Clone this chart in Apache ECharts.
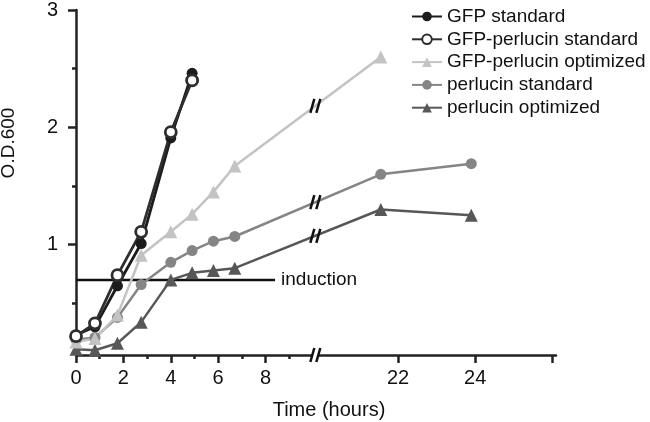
<!DOCTYPE html>
<html><head><meta charset="utf-8">
<script src="https://cdn.jsdelivr.net/npm/echarts@6/dist/echarts.min.js"></script>
<style>html,body{margin:0;padding:0;background:#fff}#c{width:650px;height:422px}</style>
</head><body><div id="c"></div>
<script>
// ---- data (hours, O.D.600) ----
const hours = [0, 0.8, 1.75, 2.75, 4, 4.9, 5.8, 6.7, 21.55, 23.9];
const gfpStandard          = [0.23, 0.30, 0.65, 1.01, 1.91, 2.46];
const gfpPerlucinStandard  = [0.22, 0.33, 0.74, 1.11, 1.96, 2.40];
const gfpPerlucinOptimized = [0.17, 0.20, 0.40, 0.91, 1.11, 1.26, 1.45, 1.67, 2.60];
const perlucinStandard     = [0.19, 0.21, 0.38, 0.66, 0.85, 0.95, 1.03, 1.07, 1.60, 1.69];
const perlucinOptimized    = [0.11, 0.10, 0.16, 0.34, 0.70, 0.76, 0.78, 0.80, 1.30, 1.25];
const seriesNames = ['GFP standard', 'GFP-perlucin standard', 'GFP-perlucin optimized', 'perlucin standard', 'perlucin optimized'];
const inductionOD = 0.7;
const inductionEndHour = 8.4;
const xMajorTickHours = [0, 2, 4, 6, 8, 22, 24, 26];
const xLabelHours = [0, 2, 4, 6, 8, 22, 24];
const xMinorTickHours = [1, 3, 5, 7, 9];
const yLabelValues = [1, 2, 3];
const yMinorTickValues = [0.5, 1.5, 2.5];

// ---- broken time axis: two segments with different scales ----
const BREAK_U = 10.1, POST_START = 19.85, POST_SCALE = 1.625, X_END_HOURS = 26.1;
function toU(h) { return h <= BREAK_U ? h : BREAK_U + (h - POST_START) * POST_SCALE; }
const X_MAX = toU(X_END_HOURS);
const Y_MIN = 0.06, Y_MAX = 3;

const FONT = '"Liberation Sans", Arial, Helvetica, sans-serif';
const INK = '#111';

function pts(vals) { return vals.map((v, i) => [toU(hours[i]), v]); }

const chart = echarts.init(document.getElementById('c'), null, { renderer: 'canvas' });

const styles = [
  { name: seriesNames[0], data: gfpStandard, color: '#1c1c1c', symbol: 'circle', size: 11, fill: '#1c1c1c', width: 2.8 },
  { name: seriesNames[1], data: gfpPerlucinStandard, color: '#2e2e2e', symbol: 'circle', size: 11, fill: '#ffffff', width: 2.8 },
  { name: seriesNames[2], data: gfpPerlucinOptimized, color: '#c3c3c3', symbol: 'triangle', size: 13, fill: '#c3c3c3', width: 2.5 },
  { name: seriesNames[3], data: perlucinStandard, color: '#858585', symbol: 'circle', size: 11, fill: '#858585', width: 2.5 },
  { name: seriesNames[4], data: perlucinOptimized, color: '#575757', symbol: 'triangle', size: 13, fill: '#575757', width: 2.5 }
];
const drawOrder = [4, 3, 2, 0, 1];

const series = drawOrder.map(k => {
  const s = styles[k];
  return {
    name: s.name, type: 'line', data: pts(s.data),
    symbol: s.symbol, symbolSize: s.size, showSymbol: true,
    lineStyle: { color: s.color, width: s.width },
    itemStyle: { color: s.fill, borderColor: s.color, borderWidth: s.fill === '#ffffff' ? 2.8 : 0, opacity: 1 },
    z: 2
  };
});
series.push({
  name: 'induction', type: 'line', data: [[0, inductionOD], [toU(inductionEndHour), inductionOD]],
  symbol: 'none', lineStyle: { color: INK, width: 2.5 }, z: 1,
  endLabel: { show: true, formatter: 'induction', distance: 6, fontSize: 19, fontFamily: FONT, color: INK }
});

const axisLine = { show: true, lineStyle: { color: '#222', width: 2.5 } };

chart.setOption({
  animation: false,
  grid: { left: 76, right: 94, top: 5, bottom: 67, containLabel: false },
  legend: {
    data: seriesNames, orient: 'vertical', left: 411, top: 7, padding: 0,
    itemWidth: 30, itemHeight: 12, itemGap: 3.8,
    textStyle: { fontSize: 19, fontFamily: FONT, color: INK, lineHeight: 19 }
  },
  xAxis: [
    {
      type: 'value', min: 0, max: X_MAX, position: 'bottom',
      axisLine: Object.assign({ onZero: false }, axisLine),
      axisTick: { show: true, length: 8, lineStyle: { color: '#222', width: 2.5 }, customValues: xMajorTickHours.map(toU) },
      axisLabel: {
        show: true, margin: 13, fontSize: 20, fontFamily: FONT, color: INK,
        customValues: xLabelHours.map(toU),
        formatter: v => { const h = xLabelHours.find(x => Math.abs(toU(x) - v) < 1e-6); return h === undefined ? '' : String(h); }
      },
      splitLine: { show: false }
    },
    {
      type: 'value', min: 0, max: X_MAX, position: 'bottom', offset: 0,
      axisLine: { show: false, onZero: false },
      axisTick: { show: true, length: 4, lineStyle: { color: '#222', width: 2.5 }, customValues: xMinorTickHours.map(toU) },
      axisLabel: { show: false },
      splitLine: { show: false }
    }
  ],
  yAxis: [
    {
      type: 'value', min: Y_MIN, max: Y_MAX, position: 'left',
      axisLine: Object.assign({ onZero: false }, axisLine),
      axisTick: { show: true, length: 8, lineStyle: { color: '#222', width: 2.5 }, customValues: yLabelValues },
      axisLabel: { show: true, margin: 18, fontSize: 20, fontFamily: FONT, color: INK, customValues: yLabelValues },
      splitLine: { show: false }
    },
    {
      type: 'value', min: Y_MIN, max: Y_MAX, position: 'left', offset: 0,
      axisLine: { show: false, onZero: false },
      axisTick: { show: true, length: 4, lineStyle: { color: '#222', width: 2.5 }, customValues: yMinorTickValues },
      axisLabel: { show: false },
      splitLine: { show: false }
    }
  ],
  series: series
});

// ---- break marks and axis titles ----
const g = [];
const bx = chart.convertToPixel({ gridIndex: 0 }, [BREAK_U, Y_MIN])[0];
const axisY = chart.convertToPixel({ gridIndex: 0 }, [0, Y_MIN])[1];
function slashes(x, y, withGap) {
  if (withGap) g.push({ type: 'rect', z: 100, shape: { x: x - 3, y: y - 3, width: 6, height: 6 }, style: { fill: '#fff' } });
  [-3, 3].forEach(dx => {
    g.push({ type: 'line', z: 101, shape: { x1: x + dx - 2, y1: y + 7, x2: x + dx + 2, y2: y - 7 }, style: { stroke: INK, lineWidth: 2.5 } });
  });
}
slashes(bx, axisY, true);
[2, 3, 4].forEach(k => {
  const d = styles[k].data;
  const i1 = 7, i2 = 8;
  const p1 = chart.convertToPixel({ gridIndex: 0 }, [toU(hours[i1]), d[i1]]);
  const p2 = chart.convertToPixel({ gridIndex: 0 }, [toU(hours[i2]), d[i2]]);
  const y = p1[1] + (p2[1] - p1[1]) * (bx - p1[0]) / (p2[0] - p1[0]);
  slashes(bx, y, false);
});
g.push({ type: 'text', z: 100, x: 9, y: 143, rotation: Math.PI / 2,
  style: { text: 'O.D.600', font: '19px ' + FONT, fill: INK, align: 'center', verticalAlign: 'middle', textAlign: 'center', textVerticalAlign: 'middle' } });
g.push({ type: 'text', z: 100, x: 329, y: 410,
  style: { text: 'Time (hours)', font: '20px ' + FONT, fill: INK, align: 'center', verticalAlign: 'middle', textAlign: 'center', textVerticalAlign: 'middle' } });
chart.setOption({ graphic: { elements: g } });
</script>
</body></html>
